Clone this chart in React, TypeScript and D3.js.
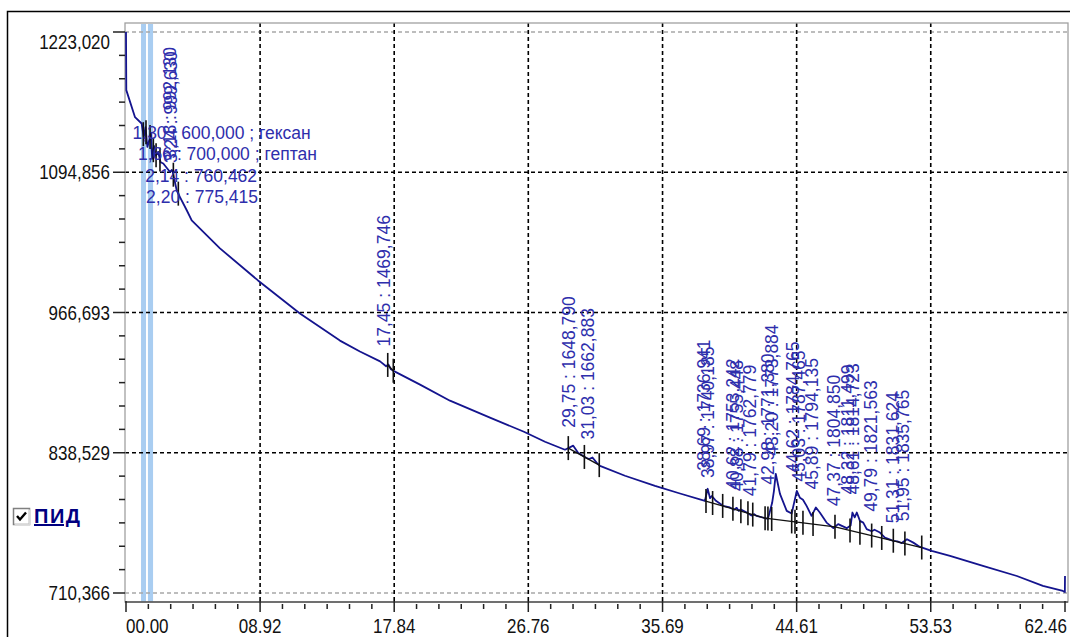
import React, { useEffect, useRef } from 'react';
import * as d3 from 'd3';

// detector trace: retention time (min) / signal
const traceTimes = [
  0, 0.02, 0.6, 1.04, 1.18, 1.3, 1.42, 1.55, 1.66, 1.74, 1.86, 1.98, 2.14, 2.2, 2.3, 2.48,
  2.93, 3.05, 3.13, 3.37, 3.59, 4.04, 4.37, 6.25, 8.78, 11.57, 14.23, 15.56, 16.9, 17.3,
  17.45, 17.62, 17.76, 19.56, 21.55, 24.21, 26.47, 27.87, 29.2, 29.75, 30.07, 30.6, 30.8,
  31.03, 31.3, 31.53, 33.19, 35.19, 36.85, 38.51, 38.69, 38.85, 38.97, 39.24, 39.71, 40.17,
  40.45, 40.62, 40.75, 40.88, 41.29, 41.6, 41.79, 41.95, 42.7, 42.98, 43.1, 43.22, 43.5,
  43.95, 44.28, 44.62, 44.83, 45.03, 45.27, 45.6, 45.89, 46.15, 46.6, 47.05, 47.37, 47.94,
  48.2, 48.32, 48.47, 48.61, 48.82, 49.04, 49.27, 49.6, 49.79, 50.15, 50.48, 51.04, 51.31,
  51.6, 51.95, 52.37, 52.81, 53.59, 54.81, 57.0, 59.26, 60.99, 62.32, 62.45, 62.46,
];
const traceValues = [
  1223.0, 1169.9, 1145.2, 1139.4, 1127.0, 1136.0, 1118.0, 1124.0, 1131.0, 1107.0, 1119.0,
  1110.0, 1113.5, 1110.0, 1104.0, 1102.8, 1095.1, 1097.0, 1093.9, 1078.4, 1072.2, 1060.1,
  1050.9, 1025.3, 996.0, 965.8, 941.0, 931.0, 922.0, 917.6, 919.2, 914.8, 913.6, 900.8,
  886.1, 870.6, 857.7, 848.6, 841.3, 845.0, 838.5, 834.0, 832.8, 834.2, 829.5, 826.6, 817.5,
  808.3, 801.3, 794.6, 805.6, 797.0, 799.0, 794.6, 790.0, 788.5, 786.5, 788.2, 785.5, 786.8,
  783.9, 781.2, 782.4, 780.8, 778.1, 792.8, 803.7, 819.3, 801.0, 785.4, 783.0, 803.7, 797.3,
  795.5, 790.0, 780.9, 788.5, 783.9, 774.7, 769.6, 773.3, 769.6, 772.0, 783.9, 779.5, 783.9,
  776.3, 774.7, 768.7, 766.8, 768.2, 765.6, 761.0, 758.0, 757.6, 756.0, 759.5, 756.4, 752.5,
  748.8, 744.2, 735.1, 725.9, 716.8, 712.2, 711.3, 725.9,
];

const yTickValues = [710.366, 838.529, 966.693, 1094.856, 1223.02];
const yTickLabels = ['710,366', '838,529', '966,693', '1094,856', '1223,020'];
const xTickValues = [0, 8.92, 17.84, 26.76, 35.69, 44.61, 53.53, 62.46];
const xTickLabels = ['00.00', '08.92', '17.84', '26.76', '35.69', '44.61', '53.53', '62.46'];

// reference peaks (horizontal labels)
const refPeakTimes = [1.3, 1.66, 2.14, 2.2];
const refPeakLabels = [
  '1,30 : 600,000 ; гексан',
  '1,66 : 700,000 ; гептан',
  '2,14 : 760,462',
  '2,20 : 775,415',
];

// other peaks (vertical labels)
const peakTimes = [
  3.18, 3.24, 17.45, 29.75, 31.03, 38.69, 38.97, 40.62, 40.88, 41.79, 42.98, 43.22, 44.62,
  45.03, 45.89, 47.37, 48.32, 48.61, 49.79, 51.31, 51.95,
];
const peakLabels = [
  '3,18 : 992,130', '3,24 : 999,630', '17,45 : 1469,746', '29,75 : 1648,790',
  '31,03 : 1662,883', '38,69 : 1736,941', '38,97 : 1740,185', '40,62 : 1753,242',
  '40,88 : 1755,448', '41,79 : 1762,779', '42,98 : 1771,380', '43,20 : 1773,884',
  '44,62 : 1784,765', '45,03 : 1787,465', '45,89 : 1794,135', '47,37 : 1804,850',
  '48,32 : 1811,499', '48,61 : 1814,723', '49,79 : 1821,563', '51,31 : 1831,624',
  '51,95 : 1835,765',
];

const markerTimes = [
  1.15, 1.33, 1.6, 1.82, 2.0, 2.26, 3.15, 3.48, 17.41, 17.78, 29.42, 30.49, 31.48, 38.58,
  39.02, 39.69, 40.37, 40.9, 41.37, 41.69, 42.51, 42.7, 42.95, 44.28, 44.5, 45.03, 45.7,
  47.16, 48.16, 48.82, 49.6, 50.27, 51.04, 51.81, 52.93,
];
const baselineFrom = [17.41, 29.42, 38.5, 42.51, 47.16];
const baselineTo = [17.78, 31.48, 42.51, 47.16, 52.93];

const windowFrom = [1.0, 1.46];
const windowTo = [1.33, 1.8];

const W = 1070;
const H = 637;
const left = 125;
const right = 1068;
const top = 23;
const bottom = 602;
const font = 'Liberation Sans, Arial, sans-serif';
const labelBlue = '#2e2eac';

const Chromatogram = () => {
  const svgRef: any = useRef();

  useEffect(() => {
    const svg = d3.select(svgRef.current);
    svg.selectAll('*').remove();

    const x = d3.scaleLinear().domain([0, 62.46]).range([126, 1065]);
    const y = d3.scaleLinear().domain([710.366, 1223.02]).range([593, 32]);

    const bis = d3.bisector((d: number) => d).left;
    const valueAt = (t: number) => {
      const i = bis(traceTimes, t);
      if (i <= 0) return traceValues[0];
      if (i >= traceTimes.length) return traceValues[traceValues.length - 1];
      const t0 = traceTimes[i - 1];
      const t1 = traceTimes[i];
      return d3.interpolateNumber(traceValues[i - 1], traceValues[i])((t - t0) / (t1 - t0));
    };
    const baseAt = (t: number) => {
      for (let k = 0; k < baselineFrom.length; k++) {
        if (t >= baselineFrom[k] && t <= baselineTo[k]) {
          const f = (t - baselineFrom[k]) / (baselineTo[k] - baselineFrom[k]);
          return d3.interpolateNumber(valueAt(baselineFrom[k]), valueAt(baselineTo[k]))(f);
        }
      }
      return valueAt(t);
    };

    // outer frame
    svg.append('rect')
      .attr('x', 7.5).attr('y', 11.5)
      .attr('width', W).attr('height', H)
      .attr('fill', 'none').attr('stroke', '#000').attr('stroke-width', 1.5);

    // integration windows
    windowFrom.forEach((w, i) => {
      svg.append('rect')
        .attr('x', x(w)).attr('y', top + 1)
        .attr('width', x(windowTo[i]) - x(w))
        .attr('height', bottom - top - 1)
        .attr('fill', '#a9cdf1');
    });

    // grid
    yTickValues.forEach((v, i) => {
      const edge = i === 0 || i === yTickValues.length - 1;
      svg.append('line')
        .attr('x1', left).attr('x2', right)
        .attr('y1', y(v)).attr('y2', y(v))
        .attr('stroke', edge ? '#a8a8a8' : '#000')
        .attr('stroke-width', 1.6)
        .attr('stroke-dasharray', '4,3');
    });
    xTickValues.slice(1, -1).forEach((v) => {
      svg.append('line')
        .attr('x1', x(v)).attr('x2', x(v))
        .attr('y1', top).attr('y2', bottom)
        .attr('stroke', '#000')
        .attr('stroke-width', 1.6)
        .attr('stroke-dasharray', '4,3');
    });

    // plot frame
    svg.append('rect')
      .attr('x', left).attr('y', top)
      .attr('width', right - left).attr('height', bottom - top)
      .attr('fill', 'none').attr('stroke', '#a0a0a0').attr('stroke-width', 1.3);
    svg.append('line')
      .attr('x1', left).attr('x2', right)
      .attr('y1', bottom).attr('y2', bottom)
      .attr('stroke', '#555').attr('stroke-width', 1.5);

    // y ticks
    yTickValues.forEach((v, i) => {
      svg.append('line')
        .attr('x1', left - 12).attr('x2', left)
        .attr('y1', y(v)).attr('y2', y(v))
        .attr('stroke', '#222').attr('stroke-width', 1.5);
      if (i < yTickValues.length - 1) {
        const step = (yTickValues[i + 1] - v) / 6;
        for (let k = 1; k < 6; k++) {
          svg.append('line')
            .attr('x1', left - 6).attr('x2', left)
            .attr('y1', y(v + k * step)).attr('y2', y(v + k * step))
            .attr('stroke', '#222').attr('stroke-width', 1.5);
        }
      }
      const cy = Math.max(y(v), top + 19);
      svg.append('text')
        .attr('transform', `translate(110,${cy}) scale(0.85,1)`)
        .attr('text-anchor', 'end')
        .attr('dy', '0.36em')
        .attr('font-family', font)
        .attr('font-size', 20)
        .attr('fill', '#111')
        .text(yTickLabels[i]);
    });

    // x ticks
    xTickValues.forEach((v, i) => {
      svg.append('line')
        .attr('x1', x(v)).attr('x2', x(v))
        .attr('y1', bottom - 1).attr('y2', bottom + 10)
        .attr('stroke', '#222').attr('stroke-width', 1.5);
      if (i < xTickValues.length - 1) {
        const step = (xTickValues[i + 1] - v) / 6;
        for (let k = 1; k < 6; k++) {
          svg.append('line')
            .attr('x1', x(v + k * step)).attr('x2', x(v + k * step))
            .attr('y1', bottom + 2).attr('y2', bottom + 7)
            .attr('stroke', '#222').attr('stroke-width', 1.5);
        }
      }
      const t = svg.append('text')
        .attr('text-anchor', 'middle')
        .attr('font-family', font)
        .attr('font-size', 20)
        .attr('fill', '#111')
        .text(xTickLabels[i]);
      const w = (t.node() as SVGTextElement).getComputedTextLength() * 0.85;
      const cx = Math.min(Math.max(x(v), 126 + w / 2), 1067 - w / 2);
      t.attr('transform', `translate(${cx},633) scale(0.85,1)`);
    });

    // trace
    const line = d3.line<number>()
      .x((d) => x(d))
      .y((d, i) => y(traceValues[i]));
    svg.append('path')
      .attr('d', line(traceTimes))
      .attr('fill', 'none')
      .attr('stroke', '#14148e')
      .attr('stroke-width', 1.8)
      .attr('stroke-linejoin', 'round');

    // baselines
    baselineFrom.forEach((b, i) => {
      svg.append('line')
        .attr('x1', x(b)).attr('y1', y(valueAt(b)))
        .attr('x2', x(baselineTo[i])).attr('y2', y(valueAt(baselineTo[i])))
        .attr('stroke', '#111').attr('stroke-width', 1.3);
    });

    // peak start/end markers
    markerTimes.forEach((m) => {
      const cy = y(baseAt(m));
      svg.append('line')
        .attr('x1', x(m)).attr('x2', x(m))
        .attr('y1', cy - 12).attr('y2', cy + 12)
        .attr('stroke', '#111').attr('stroke-width', 1.6);
    });

    // vertical peak labels
    peakTimes.forEach((p, i) => {
      svg.append('text')
        .attr('transform', `translate(${x(p) + 2},${y(valueAt(p)) - 18}) rotate(-90)`)
        .attr('font-family', font)
        .attr('font-size', 17.5)
        .attr('fill', labelBlue)
        .text(peakLabels[i]);
    });

    // reference peak labels, stacked
    let prev = -Infinity;
    refPeakTimes.forEach((p, i) => {
      const cy = Math.max(y(valueAt(p)) + 5, prev + 21.5);
      prev = cy;
      svg.append('text')
        .attr('x', x(p) - 13)
        .attr('y', cy)
        .attr('dy', '0.36em')
        .attr('font-family', font)
        .attr('font-size', 17.5)
        .attr('fill', labelBlue)
        .text(refPeakLabels[i]);
    });

    // legend
    const lg = svg.append('g').attr('transform', 'translate(13,508)');
    lg.append('rect').attr('x', 0.5).attr('y', 0.5).attr('width', 16).attr('height', 16)
      .attr('fill', '#fff').attr('stroke', '#808080').attr('stroke-width', 1.5);
    lg.append('path').attr('d', 'M1.5,16.5 L16.5,16.5 L16.5,1.5')
      .attr('fill', 'none').attr('stroke', '#d8d8d8').attr('stroke-width', 1.5);
    lg.append('path').attr('d', 'M4,8 L7,11.5 L13,4.5')
      .attr('fill', 'none').attr('stroke', '#000').attr('stroke-width', 2.4);
    svg.append('text')
      .attr('x', 34).attr('y', 523)
      .attr('font-family', font)
      .attr('font-size', 20)
      .attr('font-weight', 'bold')
      .attr('letter-spacing', 1.5)
      .attr('fill', '#000080')
      .attr('text-decoration', 'underline')
      .text('ПИД');
  }, []);

  return (
    <svg
      ref={svgRef}
      width={W}
      height={H}
      style={{ position: 'absolute', left: 0, top: 0, background: '#fff' }}
    />
  );
};

export default function App() {
  return <Chromatogram />;
}
